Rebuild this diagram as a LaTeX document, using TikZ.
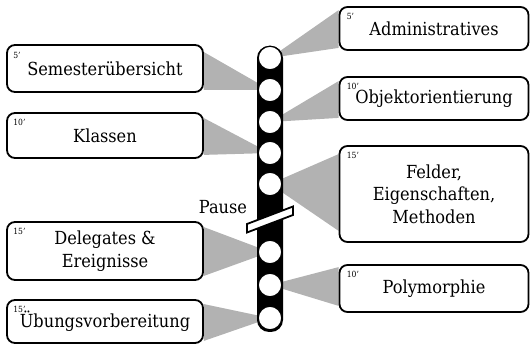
\documentclass[tikz,border=0pt]{standalone}
\usepackage{fontspec}
\setmainfont{DejaVu Serif Condensed}
\usetikzlibrary{calc}
\tikzset{
  box/.style={draw=black, line width=1.8pt, fill=white, rounded corners=8pt,
    minimum width=196pt, align=center, inner sep=0pt, font=\fontsize{18}{22.5}\selectfont},
  rbox/.style={box, minimum width=189pt},
  minlab/.style={anchor=north west, inner sep=0pt, font=\fontsize{8.5}{9}\selectfont},
  dot/.style={circle, draw=black, line width=1.2pt, fill=white, minimum size=23.5pt, inner sep=0pt},
  wedge/.style={fill=black!30, draw=none},
  bar/.style={fill=black, rounded corners=12pt},
  plain/.style={inner sep=0pt, font=\fontsize{18}{22}\selectfont}
}
\begin{document}
\begin{tikzpicture}[x=1pt,y=-1pt]
\useasboundingbox (0,0) rectangle (531,347);
% --- circle positions
\coordinate (p1) at (270,58);
\coordinate (p2) at (270,90);
\coordinate (p3) at (270,122);
\coordinate (p4) at (270,153);
\coordinate (p5) at (270,184);
\coordinate (p6) at (270,252);
\coordinate (p7) at (270,285);
\coordinate (p8) at (270,318);
% --- box placeholders (for wedge ends)
\path (105,68.5)  node[box, minimum height=47pt, draw=none, fill=none] (sem) {};
\path (105,135.5) node[box, minimum height=45pt, draw=none, fill=none] (kla) {};
\path (105,251)   node[box, minimum height=58pt, draw=none, fill=none] (del) {};
\path (105,321.5) node[box, minimum height=43pt, draw=none, fill=none] (ueb) {};
\path (434,28.5)  node[rbox, minimum height=43pt, draw=none, fill=none] (adm) {};
\path (434,98.5)  node[rbox, minimum height=43pt, draw=none, fill=none] (obj) {};
\path (434,194)   node[rbox, minimum height=96pt, draw=none, fill=none] (fel) {};
\path (434,288.5) node[rbox, minimum height=47pt, draw=none, fill=none] (pol) {};
% --- wedges
\fill[wedge] ($(sem.north east)+(0,8)$) -- (p2) -- ($(sem.south east)+(0,-3)$) -- cycle;
\fill[wedge] ($(kla.north east)+(0,6)$) -- (p4) -- ($(kla.south east)+(0,-4)$) -- cycle;
\fill[wedge] ($(del.north east)+(0,6)$) -- (p6) -- ($(del.south east)+(0,-5)$) -- cycle;
\fill[wedge] ($(ueb.north east)+(0,5)$) -- (p8) -- ($(ueb.south east)+(0,-3)$) -- cycle;
\fill[wedge] ($(adm.north west)+(0,4)$) -- (p1) -- ($(adm.south west)+(0,-3)$) -- cycle;
\fill[wedge] ($(obj.north west)+(0,5)$) -- (p3) -- ($(obj.south west)+(0,-3)$) -- cycle;
\fill[wedge] ($(fel.north west)+(0,9)$) -- (p5) -- ($(fel.south west)+(0,-12)$) -- cycle;
\fill[wedge] ($(pol.north west)+(0,3)$) -- (p7) -- ($(pol.south west)+(0,-7)$) -- cycle;
% --- bar
\fill[bar] (257,46) rectangle (283,332);
% --- circles
\foreach \i in {1,...,8} { \node[dot] (c\i) at (p\i) {}; }
% --- pause break
\filldraw[fill=white, draw=black, line width=1.8pt]
  (247,224) -- (293,206.5) -- (293,215) -- (247,232.5) -- cycle;
\node[plain] (pause) at (223,207.5) {Pause};
% --- boxes
\node[box, minimum height=47pt] (semB) at (sem) {\raisebox{-3pt}{Semesterübersicht}};
\node[box, minimum height=45pt] (klaB) at (kla) {Klassen};
\node[box, minimum height=58pt] (delB) at (del) {Delegates \&\\Ereignisse};
\node[box, minimum height=43pt] (uebB) at (ueb) {Übungsvorbereitung};
\node[rbox, minimum height=43pt] (admB) at (adm) {Administratives};
\node[rbox, minimum height=43pt] (objB) at (obj) {Objektorientierung};
\node[rbox, minimum height=96pt] (felB) at (fel) {Felder,\\Eigenschaften,\\Methoden};
\node[rbox, minimum height=47pt] (polB) at (pol) {Polymorphie};
% --- minute labels
\node[minlab] at ($(semB.north west)+(7,8)$) {5'};
\node[minlab] at ($(klaB.north west)+(7,7)$) {10'};
\node[minlab] at ($(delB.north west)+(7,7)$) {15'};
\node[minlab] at ($(uebB.north west)+(7,7)$) {15'};
\node[minlab] at ($(admB.north west)+(8,7)$) {5'};
\node[minlab] at ($(objB.north west)+(8,7)$) {10'};
\node[minlab] at ($(felB.north west)+(8,7)$) {15'};
\node[minlab] at ($(polB.north west)+(8,7)$) {10'};
\end{tikzpicture}
\end{document}
